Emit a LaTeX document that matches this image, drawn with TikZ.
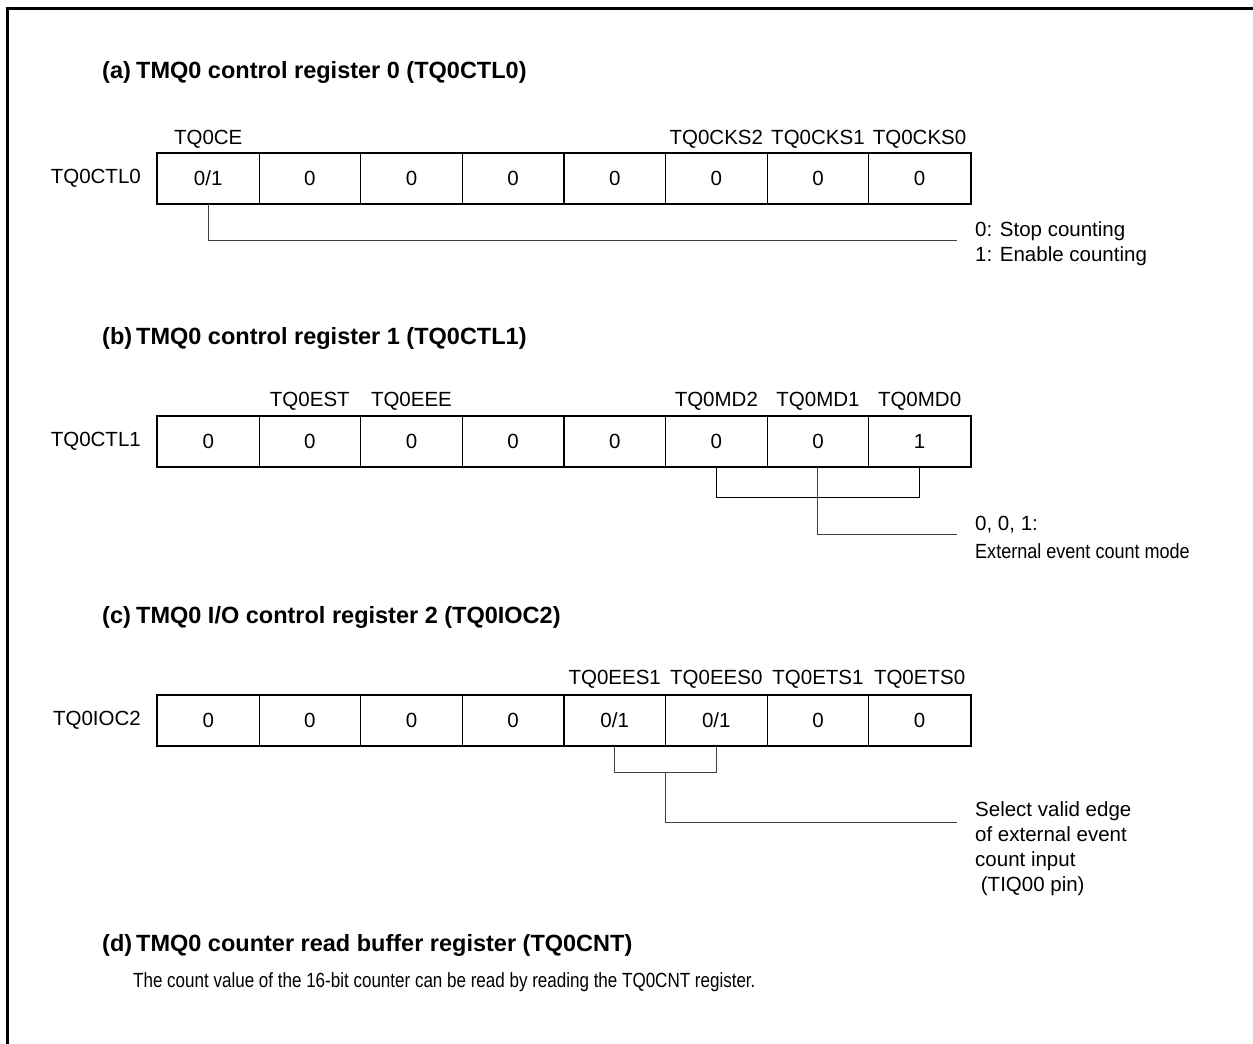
\documentclass[tikz,border=0pt]{standalone}
\usepackage{fontspec}
\setmainfont{Liberation Sans}
\newfontfamily\condA[FakeStretch=0.83]{Liberation Sans}
\newfontfamily\condB[FakeStretch=0.88]{Liberation Sans}
\begin{document}
\begin{tikzpicture}[x=1pt,y=-1pt,
  cell/.style={draw, line width=0.8pt, minimum width=101.6pt, minimum height=50pt, inner sep=0pt, anchor=north west, font=\fontsize{20.5}{24}\selectfont},
  lbl/.style={font=\fontsize{20.5}{24}\selectfont, inner sep=0pt},
  small/.style={font=\condB\fontsize{20.5}{24}\selectfont, inner sep=0pt},
  ttl/.style={font=\fontsize{23.5}{28}\selectfont\bfseries, inner sep=0pt, anchor=west},
  body/.style={font=\condA\fontsize{20.5}{24}\selectfont, inner sep=0pt},
  conn/.style={line width=1pt, draw=black!75},
  reg/.style={line width=2.5pt}
]
\useasboundingbox (0,0) rectangle (1253,1044);
% frame
\draw[line width=3pt] (7.5,1044) -- (7.5,8.5) -- (1253,8.5);

% ---------- (a)
\node[ttl] (hA) at (102,72) {(a)};
\node[ttl] (tA) at (136,72) {TMQ0 control register 0 (TQ0CTL0)};
\foreach \v [count=\i] in {{0/1},0,0,0,0,0,0,0}
  \node[cell] (a\i) at ({157+(\i-1)*101.625},153) {\v};
\draw[reg] (a1.north west) rectangle (a8.south east);
\node[lbl, anchor=east] (nA) at ([xshift=-16pt]a1.west) {TQ0CTL0};
\node[lbl, yshift=14pt] (la1) at (a1.north) {TQ0CE};
\node[lbl, yshift=14pt] (la6) at (a6.north) {TQ0CKS2};
\node[lbl, yshift=14pt] (la7) at (a7.north) {TQ0CKS1};
\node[lbl, yshift=14pt] (la8) at (a8.north) {TQ0CKS0};
\coordinate (eA) at (957,240);
\draw[conn] (a1.south) |- (eA);
\node[lbl, anchor=west] (dA1) at (975,231) {0: Stop counting};
\node[lbl, anchor=west] (dA2) at (975,256) {1: Enable counting};

% ---------- (b)
\node[ttl] (hB) at (102,338) {(b)};
\node[ttl] (tB) at (136,338) {TMQ0 control register 1 (TQ0CTL1)};
\foreach \v [count=\i] in {0,0,0,0,0,0,0,1}
  \node[cell] (b\i) at ({157+(\i-1)*101.625},416) {\v};
\draw[reg] (b1.north west) rectangle (b8.south east);
\node[lbl, anchor=east] (nB) at ([xshift=-16pt]b1.west) {TQ0CTL1};
\node[lbl, yshift=15pt] (lb2) at (b2.north) {TQ0EST};
\node[lbl, yshift=15pt] (lb3) at (b3.north) {TQ0EEE};
\node[lbl, yshift=15pt] (lb6) at (b6.north) {TQ0MD2};
\node[lbl, yshift=15pt] (lb7) at (b7.north) {TQ0MD1};
\node[lbl, yshift=15pt] (lb8) at (b8.north) {TQ0MD0};
\draw[line width=1pt] (b6.south) -- ++(0,31) -| (b8.south);
\coordinate (eB) at (957,534);
\draw[conn] (b7.south) |- (eB);
\node[lbl, anchor=west] (dB1) at (975,525) {0, 0, 1:};
\node[small, anchor=west] (dB2) at (975,551) {External event count mode};

% ---------- (c)
\node[ttl] (hC) at (102,617) {(c)};
\node[ttl] (tC) at (136,617) {TMQ0 I/O control register 2 (TQ0IOC2)};
\foreach \v [count=\i] in {0,0,0,0,{0/1},{0/1},0,0}
  \node[cell] (c\i) at ({157+(\i-1)*101.625},695) {\v};
\draw[reg] (c1.north west) rectangle (c8.south east);
\node[lbl, anchor=east] (nC) at ([xshift=-16pt]c1.west) {TQ0IOC2};
\node[lbl, yshift=16pt] (lc5) at (c5.north) {TQ0EES1};
\node[lbl, yshift=16pt] (lc6) at (c6.north) {TQ0EES0};
\node[lbl, yshift=16pt] (lc7) at (c7.north) {TQ0ETS1};
\node[lbl, yshift=16pt] (lc8) at (c8.north) {TQ0ETS0};
\draw[conn] (c5.south) -- ++(0,27) -| (c6.south);
\coordinate (mC) at (665,772);
\coordinate (eC) at (957,822);
\draw[conn] (mC) |- (eC);
\node[lbl, anchor=north west, align=left, font=\fontsize{20.5}{25.3}\selectfont] (dC) at (975,801)
  {Select valid edge\\of external event\\count input\\\ (TIQ00 pin)};

% ---------- (d)
\node[ttl] (hD) at (102,945) {(d)};
\node[ttl] (tD) at (136,945) {TMQ0 counter read buffer register (TQ0CNT)};
\node[body, anchor=west] (bD) at (133,982) {The count value of the 16-bit counter can be read by reading the TQ0CNT register.};
\end{tikzpicture}
\end{document}
